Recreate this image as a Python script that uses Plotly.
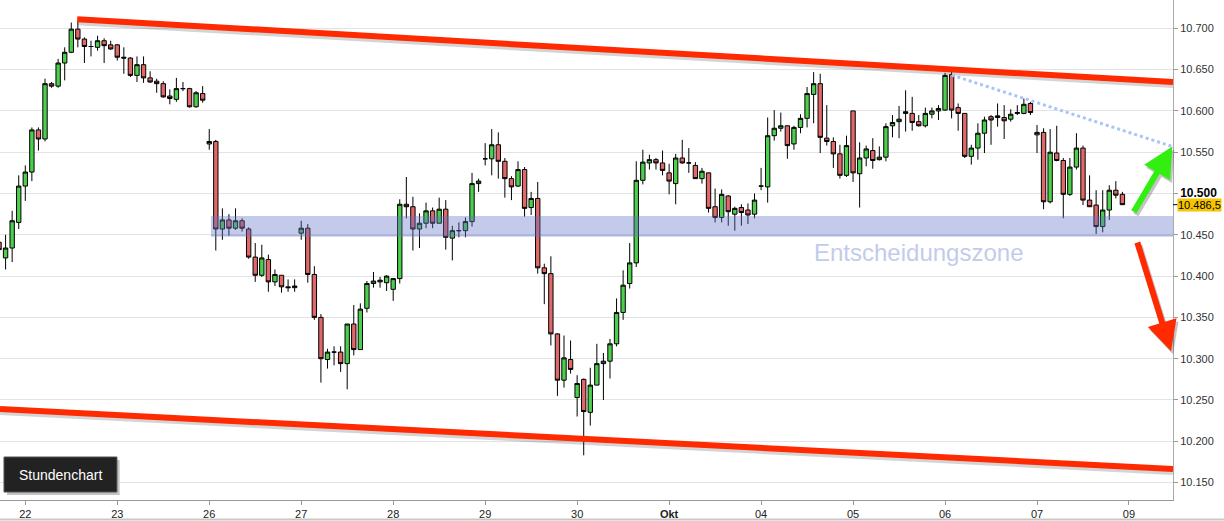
import plotly.graph_objects as go

# ---------------- data ----------------
day_labels = ["22", "23", "26", "27", "28", "29", "30", "Okt", "04", "05", "06", "07", "09"]
bars_per_day = 14
first_bar = -4  # four hourly bars of the previous day are partly visible

opens = [10441, 10422, 10434, 10465, 10509, 10526, 10577, 10566, 10633, 10630, 10658, 10671, 10699, 10687,
         10678, 10677, 10685, 10680, 10680, 10665, 10664, 10643, 10656, 10640, 10636, 10633, 10618, 10614,
         10627, 10627, 10605, 10621, 10560, 10563, 10457, 10468, 10458, 10467, 10457, 10423, 10401, 10420,
         10393, 10401, 10387, 10386, 10452, 10458, 10402, 10350, 10299, 10308, 10308, 10294, 10342, 10311,
         10361, 10391, 10393, 10392, 10384, 10397, 10487, 10484, 10457, 10464, 10479, 10464, 10481, 10446,
         10455, 10455, 10466, 10512, 10542, 10542, 10559, 10539, 10518, 10509, 10529, 10483, 10494, 10410,
         10403, 10330, 10274, 10299, 10253, 10275, 10235, 10268, 10294, 10297, 10318, 10356, 10391, 10416,
         10516, 10537, 10541, 10537, 10525, 10512, 10543, 10537, 10534, 10518, 10525, 10484, 10471, 10497,
         10475, 10483, 10480, 10475, 10509, 10508, 10570, 10579, 10582, 10560, 10580, 10591, 10620, 10633,
         10567, 10563, 10548, 10522, 10600, 10524, 10543, 10552, 10541, 10544, 10582, 10587, 10597, 10597,
         10587, 10582, 10596, 10600, 10601, 10644, 10604, 10597, 10545, 10555, 10573, 10593, 10592, 10592,
         10590, 10597, 10597, 10609, 10571, 10574, 10490, 10549, 10540, 10499, 10532, 10555, 10492, 10486,
         10460, 10480, 10504, 10499]
highs = [10446, 10450, 10479, 10522, 10534, 10580, 10580, 10639, 10635, 10663, 10677, 10707, 10708, 10689,
         10685, 10691, 10688, 10685, 10681, 10677, 10665, 10666, 10666, 10648, 10639, 10636, 10626, 10640,
         10635, 10628, 10624, 10630, 10578, 10565, 10482, 10475, 10482, 10470, 10459, 10440, 10438, 10426,
         10408, 10401, 10396, 10396, 10467, 10463, 10412, 10354, 10312, 10315, 10315, 10342, 10365, 10367,
         10394, 10405, 10399, 10401, 10397, 10493, 10520, 10496, 10476, 10489, 10483, 10495, 10492, 10461,
         10465, 10471, 10525, 10518, 10561, 10578, 10574, 10543, 10521, 10539, 10532, 10502, 10514, 10415,
         10424, 10331, 10328, 10322, 10280, 10276, 10289, 10318, 10307, 10324, 10373, 10407, 10440, 10539,
         10553, 10547, 10543, 10552, 10536, 10548, 10565, 10555, 10538, 10531, 10525, 10506, 10505, 10498,
         10484, 10487, 10488, 10500, 10531, 10592, 10601, 10598, 10582, 10582, 10596, 10629, 10647, 10645,
         10607, 10568, 10559, 10570, 10600, 10562, 10558, 10567, 10557, 10585, 10595, 10606, 10625, 10617,
         10595, 10604, 10604, 10607, 10646, 10648, 10609, 10597, 10559, 10585, 10593, 10595, 10609, 10607,
         10602, 10607, 10615, 10611, 10583, 10579, 10578, 10582, 10543, 10543, 10573, 10558, 10522, 10504,
         10504, 10510, 10515, 10502]
lows = [10410, 10408, 10417, 10457, 10491, 10515, 10552, 10563, 10628, 10628, 10637, 10670, 10677, 10658,
        10666, 10673, 10658, 10674, 10661, 10645, 10641, 10635, 10634, 10634, 10622, 10616, 10608, 10611,
        10624, 10604, 10604, 10610, 10553, 10431, 10444, 10449, 10456, 10454, 10421, 10393, 10399, 10381,
        10388, 10380, 10381, 10381, 10444, 10392, 10347, 10271, 10288, 10292, 10284, 10263, 10304, 10311,
        10356, 10386, 10386, 10382, 10370, 10391, 10470, 10431, 10434, 10458, 10458, 10464, 10432, 10419,
        10447, 10447, 10460, 10502, 10534, 10522, 10518, 10495, 10492, 10508, 10472, 10474, 10403, 10366,
        10316, 10255, 10265, 10282, 10230, 10183, 10219, 10268, 10250, 10276, 10315, 10347, 10385, 10411,
        10511, 10529, 10529, 10522, 10499, 10487, 10536, 10525, 10518, 10512, 10477, 10465, 10465, 10461,
        10455, 10461, 10463, 10470, 10504, 10489, 10564, 10575, 10542, 10553, 10573, 10580, 10585, 10549,
        10558, 10531, 10518, 10520, 10514, 10483, 10533, 10530, 10540, 10539, 10568, 10567, 10575, 10576,
        10581, 10580, 10591, 10589, 10600, 10591, 10576, 10543, 10535, 10541, 10549, 10559, 10581, 10566,
        10587, 10595, 10596, 10595, 10549, 10481, 10488, 10539, 10470, 10497, 10529, 10486, 10484, 10451,
        10453, 10468, 10494, 10486]
closes = [10432, 10434, 10467, 10509, 10526, 10577, 10566, 10633, 10630, 10658, 10671, 10699, 10687, 10678,
          10678, 10685, 10679, 10675, 10665, 10664, 10643, 10656, 10640, 10635, 10633, 10617, 10615, 10627,
          10627, 10605, 10622, 10613, 10563, 10457, 10468, 10458, 10467, 10458, 10423, 10401, 10422, 10393,
          10402, 10387, 10386, 10388, 10458, 10402, 10350, 10300, 10308, 10308, 10294, 10342, 10311, 10360,
          10391, 10394, 10395, 10400, 10397, 10487, 10484, 10457, 10464, 10479, 10464, 10481, 10447, 10455,
          10455, 10466, 10512, 10515, 10542, 10559, 10539, 10518, 10508, 10529, 10482, 10494, 10410, 10403,
          10330, 10274, 10301, 10287, 10270, 10236, 10268, 10294, 10297, 10318, 10356, 10389, 10416, 10516,
          10538, 10541, 10537, 10528, 10515, 10543, 10537, 10537, 10518, 10527, 10482, 10471, 10499, 10478,
          10482, 10477, 10474, 10492, 10509, 10570, 10579, 10582, 10558, 10580, 10591, 10621, 10633, 10568,
          10563, 10548, 10522, 10558, 10525, 10543, 10554, 10540, 10544, 10581, 10586, 10590, 10599, 10586,
          10582, 10597, 10600, 10603, 10643, 10601, 10597, 10545, 10555, 10573, 10589, 10589, 10594, 10588,
          10596, 10598, 10608, 10598, 10574, 10490, 10550, 10540, 10499, 10532, 10555, 10492, 10484, 10460,
          10480, 10504, 10498, 10486.5]

y_ticks = list(range(10150, 10701, 50))
highlight_tick = 10500
last_price = closes[-1]

# drawn annotations (in chart units: bar index / index points)
upper_channel = ([7.9, 174.7], [10711, 10635])
lower_channel = ([-3.85, 174.7], [10239, 10166.5])
dotted_trend = ([141, 174.7], [10643.5, 10556.7])
zone_low, zone_high, zone_start = 10448.6, 10472.8, 28.26
green_arrow = ((168.6, 10476), (174.6, 10557))
red_arrow = ((169.2, 10442.5), (174.4, 10309))
zone_label = "Entscheidungszone"
box_label = "Stundenchart"

# ---------------- figure ----------------
x = list(range(first_bar, first_bar + len(opens)))

fig = go.Figure()
fig.add_trace(go.Candlestick(
    x=x, open=opens, high=highs, low=lows, close=closes,
    increasing=dict(fillcolor="#4ccf4c", line=dict(color="#000000", width=1)),
    decreasing=dict(fillcolor="#e06868", line=dict(color="#000000", width=1)),
    whiskerwidth=0, hoverinfo="skip", showlegend=False,
))

x_range = [-3.85, 174.7]
y_range = [10128.9, 10734.3]

def tick_txt(v):
    s = f"{v:,}".replace(",", ".")
    if v == highlight_tick:
        return f"<span style='font-size:12px;color:#000'><b>{s}</b></span>"
    return s

shapes = []
# decision zone
shapes.append(dict(type="rect", xref="x", yref="y", x0=zone_start, x1=x_range[1], y0=zone_low, y1=zone_high,
                   fillcolor="rgba(100,115,200,0.38)", line=dict(width=0), layer="above"))
shapes.append(dict(type="line", xref="x", yref="y", x0=zone_start, x1=x_range[1], y0=zone_low, y1=zone_low,
                   line=dict(color="rgba(110,120,180,0.35)", width=1.5), layer="above"))
# channel lines with soft shadow
for (xs, ys) in (upper_channel, lower_channel):
    shapes.append(dict(type="line", xref="x", yref="y", x0=xs[0], x1=xs[1], y0=ys[0] - 3.0, y1=ys[1] - 3.0,
                       line=dict(color="rgba(60,60,60,0.22)", width=7), layer="above"))
    shapes.append(dict(type="line", xref="x", yref="y", x0=xs[0], x1=xs[1], y0=ys[0], y1=ys[1],
                       line=dict(color="#ff2a00", width=6), layer="above"))
# dotted trend line
shapes.append(dict(type="line", xref="x", yref="y", x0=dotted_trend[0][0], x1=dotted_trend[0][1],
                   y0=dotted_trend[1][0], y1=dotted_trend[1][1],
                   line=dict(color="#aac4f6", width=3, dash="dot"), layer="above"))
# bottom page border
shapes.append(dict(type="line", xref="paper", yref="paper", x0=0, x1=1.05, y0=-0.039, y1=-0.039,
                   line=dict(color="#c8c8c8", width=2)))
# Stundenchart box with shadow
shapes.append(dict(type="rect", xref="paper", yref="paper", x0=0.0060, x1=0.1020, y0=0.010, y1=0.080,
                   fillcolor="#c4c4c4", line=dict(width=0), layer="above"))
shapes.append(dict(type="rect", xref="paper", yref="paper", x0=0.0034, x1=0.0997, y0=0.016, y1=0.086,
                   fillcolor="#222222", line=dict(color="#555", width=1), layer="above"))
# small tick at last price
shapes.append(dict(type="line", xref="paper", yref="y", x0=1.0, x1=1.004, y0=last_price, y1=last_price,
                   line=dict(color="#000", width=1)))

annotations = []
# arrow shadows then arrows
for (tail, tip), col in ((green_arrow, "#33ee11"), (red_arrow, "#ff2a00")):
    annotations.append(dict(x=tip[0], y=tip[1], ax=tail[0], ay=tail[1], xref="x", yref="y", axref="x", ayref="y",
                            showarrow=True, arrowhead=2, arrowsize=1.0, arrowwidth=6,
                            arrowcolor="rgba(60,60,60,0.3)", text="", xshift=2, yshift=-3))
    annotations.append(dict(x=tip[0], y=tip[1], ax=tail[0], ay=tail[1], xref="x", yref="y", axref="x", ayref="y",
                            showarrow=True, arrowhead=2, arrowsize=1.0, arrowwidth=6,
                            arrowcolor=col, text=""))
annotations.append(dict(x=136, y=10428, xref="x", yref="y", text=zone_label, showarrow=False,
                        xanchor="center", yanchor="middle",
                        font=dict(family="Liberation Sans, Arial, sans-serif", size=24, color="#c3cbec")))
annotations.append(dict(x=0.0515, y=0.051, xref="paper", yref="paper", text=box_label, showarrow=False,
                        xanchor="center", yanchor="middle",
                        font=dict(family="Liberation Sans, Arial, sans-serif", size=14, color="#ffffff")))
annotations.append(dict(x=1, xref="paper", y=last_price, yref="y", xanchor="left", yanchor="middle", xshift=4,
                        text=f"{last_price:,.1f}".replace(",", "X").replace(".", ",").replace("X", "."),
                        showarrow=False, bgcolor="#f6c400", borderpad=0,
                        font=dict(family="Liberation Sans, Arial, sans-serif", size=11, color="#000")))

fig.update_layout(
    width=1224, height=521,
    margin=dict(l=0, r=51, t=0, b=21),
    paper_bgcolor="#ffffff", plot_bgcolor="#ffffff",
    showlegend=False,
    boxgap=0.05,
    font=dict(family="Liberation Sans, Arial, sans-serif", size=11, color="#333"),
    xaxis=dict(
        range=x_range, rangeslider=dict(visible=False), showgrid=False, zeroline=False,
        tickmode="array",
        tickvals=[i * bars_per_day for i in range(len(day_labels))],
        ticktext=[f"<b>{d}</b>" if not d.isdigit() else d for d in day_labels],
        ticks="outside", ticklen=4, tickcolor="#999", showline=True, linecolor="#999", linewidth=1,
        tickfont=dict(size=11, color="#222"), automargin=False,
    ),
    yaxis=dict(
        range=y_range, side="right", showgrid=True, gridcolor="#e3e3e3", gridwidth=1, zeroline=False,
        tickmode="array", tickvals=y_ticks, ticktext=[tick_txt(v) for v in y_ticks],
        ticks="outside", ticklen=4, tickcolor="#999", showline=True, linecolor="#aaa", linewidth=1,
        tickfont=dict(size=11, color="#333"), automargin=False,
    ),
    shapes=shapes,
    annotations=annotations,
)

fig.write_html(
    "out.html",
    config={"displayModeBar": False},
    post_script="document.body.style.margin='0';document.body.style.padding='0';"
                "document.documentElement.style.overflow='hidden';",
)
